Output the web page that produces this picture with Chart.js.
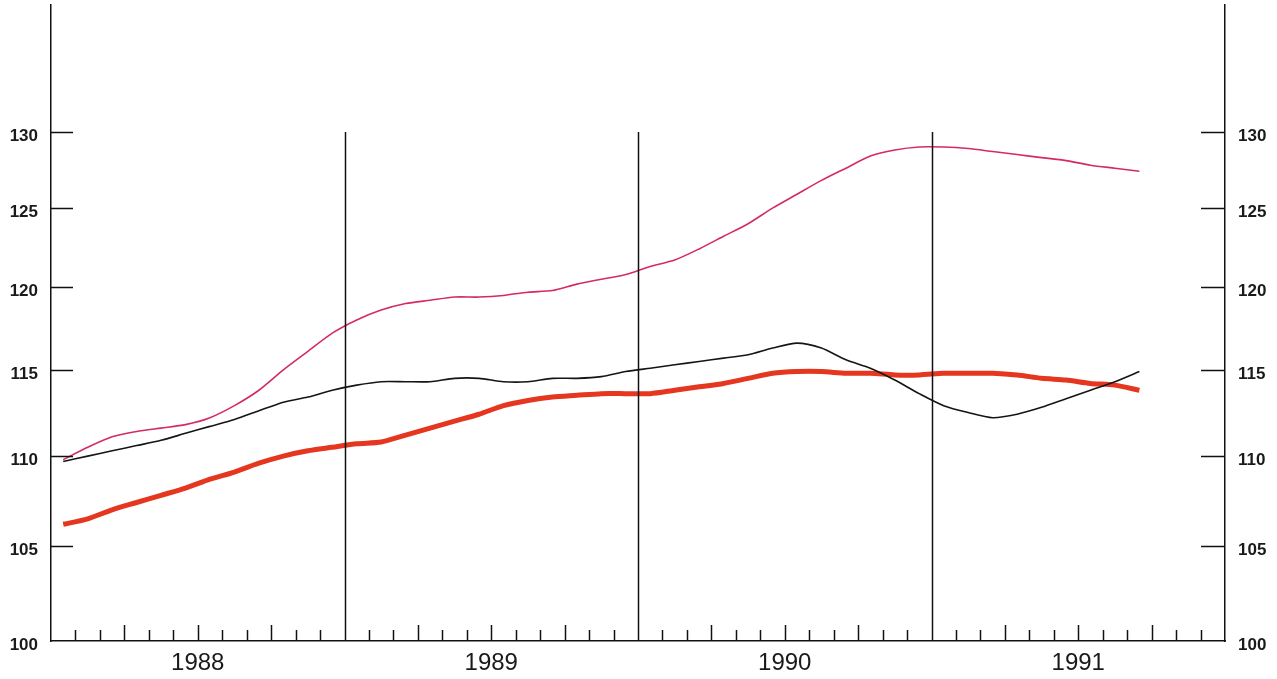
<!DOCTYPE html>
<html>
<head>
<meta charset="utf-8">
<script src="https://cdn.jsdelivr.net/npm/chart.js@4"></script>
<style>
  html, body { margin: 0; padding: 0; background: #ffffff; }
  #wrap { width: 1277px; height: 679px; position: relative; }
</style>
</head>
<body>
<div id="wrap"><canvas id="c" width="1277" height="679"></canvas></div>
<script>
// ---- data (monthly, Jan 1988 .. Sep 1991) ----
const monthLabels = [];
for (let y = 1988; y <= 1991; y++) for (let m = 1; m <= 12; m++) monthLabels.push(y + '-' + String(m).padStart(2, '0'));
monthLabels.length = 45;

const seriesPink = [109.8,110.5,111.1,111.4,111.6,111.8,112.2,112.9,113.8,115.0,
                    116.1,117.2,118.0,118.6,119.0,119.2,119.4,119.4,119.5,119.7,
                    119.8,120.2,120.5,120.8,121.3,121.7,122.4,123.2,124.0,125.0,
                    125.9,126.8,127.6,128.4,128.8,129.0,129.0,128.9,128.7,128.5,
                    128.3,128.1,127.8,127.6,127.4];
const seriesBlack = [109.7,110.0,110.3,110.6,110.9,111.3,111.7,112.1,112.6,113.1,
                     113.4,113.8,114.1,114.3,114.3,114.3,114.5,114.5,114.3,114.3,
                     114.5,114.5,114.6,114.9,115.1,115.3,115.5,115.7,115.9,116.3,
                     116.6,116.3,115.6,115.1,114.4,113.6,112.9,112.5,112.2,112.4,
                     112.8,113.3,113.8,114.3,114.9];
const seriesRed = [106.2,106.5,107.0,107.4,107.8,108.2,108.7,109.1,109.6,110.0,
                   110.3,110.5,110.7,110.8,111.2,111.6,112.0,112.4,112.9,113.2,
                   113.4,113.5,113.6,113.6,113.6,113.8,114.0,114.2,114.5,114.8,
                   114.9,114.9,114.8,114.8,114.7,114.7,114.8,114.8,114.8,114.7,
                   114.5,114.4,114.2,114.1,113.8];

const yTicks = [100, 105, 110, 115, 120, 125, 130];
const yearLabels = ['1988', '1989', '1990', '1991'];
const yearBoundaries = [12, 24, 36];   // months since Jan 1988
const totalMonths = 48;

const toPoints = arr => arr.map((v, i) => ({ x: i + 0.5, y: v }));

const FONT = '"Liberation Sans", Arial, sans-serif';

const decorPlugin = {
  id: 'decor',
  afterDatasetsDraw(chart) {
    const ctx = chart.ctx;
    const x = chart.scales.x, y = chart.scales.y;
    const ca = chart.chartArea;
    ctx.save();
    ctx.strokeStyle = '#111';
    ctx.lineWidth = 1.5;
    yearBoundaries.forEach(m => {
      const px = Math.round(x.getPixelForValue(m)) + 0.5;
      ctx.beginPath();
      ctx.moveTo(px, y.getPixelForValue(130));
      ctx.lineTo(px, ca.bottom);
      ctx.stroke();
    });
    for (let m = 1; m < totalMonths; m++) {
      if (m % 12 === 0) continue;
      const px = Math.round(x.getPixelForValue(m)) + 0.5;
      const len = (m % 3 === 0) ? 16 : 11;
      ctx.beginPath();
      ctx.moveTo(px, ca.bottom);
      ctx.lineTo(px, ca.bottom - len);
      ctx.stroke();
    }
    yTicks.forEach(v => {
      if (v === 100) return;
      const py = Math.round(y.getPixelForValue(v)) + 0.5;
      ctx.beginPath();
      ctx.moveTo(ca.left, py); ctx.lineTo(ca.left + 22, py);
      ctx.moveTo(ca.right, py); ctx.lineTo(ca.right - 24, py);
      ctx.stroke();
    });
    ctx.restore();
  }
};

const zeroPad = s => { s.paddingTop = 0; s.paddingBottom = 0; s.paddingLeft = 0; s.paddingRight = 0; };

const yScaleBase = (pos) => ({
  type: 'logarithmic',
  position: pos,
  min: 100,
  max: 138.8,
  afterBuildTicks: s => { s.ticks = yTicks.map(v => ({ value: v })); },
  afterFit: s => { s.width = pos === 'left' ? 51 : 52; zeroPad(s); },
  grid: { display: false, drawTicks: false },
  border: { display: true, color: '#111', width: 1.5 },
  ticks: {
    color: '#1a1a1a',
    padding: 13,
    labelOffset: 4,
    font: { family: FONT, size: 17, weight: 'bold' },
    callback: v => String(v)
  }
});

new Chart(document.getElementById('c'), {
  type: 'line',
  data: {
    datasets: [
      { data: toPoints(seriesBlack), borderColor: '#151515', borderWidth: 1.6, pointRadius: 0, tension: 0.25 },
      { data: toPoints(seriesPink), borderColor: '#d42a66', borderWidth: 1.6, pointRadius: 0, tension: 0.25 },
      { data: toPoints(seriesRed), borderColor: '#e5361f', borderWidth: 5, pointRadius: 0, tension: 0.25 }
    ]
  },
  options: {
    responsive: false,
    animation: false,
    devicePixelRatio: 1,
    layout: { autoPadding: false, padding: { top: 5, left: 0, right: 0, bottom: 0 } },
    plugins: { legend: { display: false }, tooltip: { enabled: false } },
    scales: {
      x: {
        type: 'linear',
        min: 0,
        max: totalMonths,
        afterBuildTicks: s => { s.ticks = yearLabels.map((_, i) => ({ value: i * 12 + 6 })); },
        afterFit: s => { s.height = 38; zeroPad(s); },
        grid: { display: false, drawTicks: false },
        border: { display: true, color: '#111', width: 1.5 },
        ticks: {
          color: '#1a1a1a',
          padding: 8,
          maxRotation: 0,
          autoSkip: false,
          font: { family: FONT, size: 24 },
          callback: v => yearLabels[Math.round((v - 6) / 12)]
        }
      },
      y: yScaleBase('left'),
      y2: yScaleBase('right')
    }
  },
  plugins: [decorPlugin]
});
</script>
</body>
</html>
